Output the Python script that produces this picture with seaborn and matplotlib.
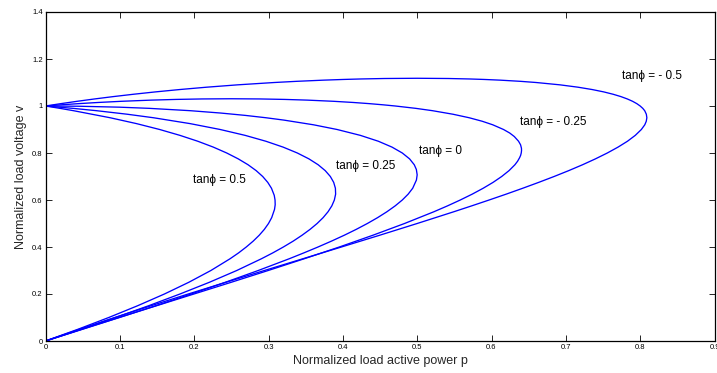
import matplotlib
matplotlib.use("Agg")
import matplotlib.pyplot as plt
import seaborn as sns

# ---- data (normalized power p, voltage v) ----
v_t050 = [1.0, 0.99, 0.98, 0.95, 0.925, 0.9, 0.875, 0.85, 0.825, 0.8,
          0.775, 0.75, 0.725, 0.7, 0.675, 0.65, 0.62, 0.6, 0.58, 0.56,
          0.525, 0.5, 0.475, 0.45, 0.425, 0.4, 0.375, 0.35, 0.3, 0.25,
          0.2, 0.15, 0.1, 0.05, 0.0]
p_t050 = [0.0, 0.0194, 0.0377, 0.0870, 0.1225, 0.1536, 0.1809, 0.2049, 0.2258, 0.2438,
          0.2593, 0.2725, 0.2834, 0.2922, 0.2990, 0.3040, 0.3077, 0.3088, 0.3090, 0.3081,
          0.3043, 0.3000, 0.2944, 0.2875, 0.2794, 0.2701, 0.2598, 0.2483, 0.2225, 0.1929,
          0.1600, 0.1239, 0.0851, 0.0437, 0.0]

v_t025 = [1.0, 0.99, 0.98, 0.965, 0.95, 0.925, 0.9, 0.875, 0.85, 0.825,
          0.8, 0.775, 0.75, 0.725, 0.7, 0.675, 0.65, 0.625, 0.6, 0.575,
          0.55, 0.525, 0.5, 0.475, 0.45, 0.425, 0.4, 0.375, 0.35, 0.3,
          0.25, 0.2, 0.15, 0.1, 0.05, 0.0]
p_t025 = [0.0, 0.0369, 0.0687, 0.1099, 0.1453, 0.1946, 0.2350, 0.2686, 0.2965, 0.3197,
          0.3388, 0.3544, 0.3668, 0.3763, 0.3832, 0.3877, 0.3900, 0.3903, 0.3886, 0.3852,
          0.3801, 0.3735, 0.3654, 0.3559, 0.3451, 0.3332, 0.3200, 0.3058, 0.2905, 0.2573,
          0.2206, 0.1809, 0.1387, 0.0942, 0.0479, 0.0]

v_t000 = [1.0, 0.999, 0.995, 0.99, 0.98, 0.97, 0.96, 0.95, 0.94, 0.92,
          0.9, 0.875, 0.85, 0.825, 0.8, 0.775, 0.75, 0.73, 0.7071, 0.685,
          0.65, 0.625, 0.6, 0.575, 0.55, 0.525, 0.5, 0.475, 0.45, 0.425,
          0.4, 0.375, 0.35, 0.3, 0.25, 0.2, 0.15, 0.1, 0.05, 0.0]
p_t000 = [0.0, 0.0447, 0.0994, 0.1397, 0.1950, 0.2358, 0.2688, 0.2966, 0.3207, 0.3606,
          0.3923, 0.4236, 0.4478, 0.4662, 0.4800, 0.4898, 0.4961, 0.4989, 0.5000, 0.4990,
          0.4940, 0.4879, 0.4800, 0.4704, 0.4593, 0.4468, 0.4330, 0.4180, 0.4019, 0.3847,
          0.3666, 0.3476, 0.3279, 0.2862, 0.2421, 0.1960, 0.1483, 0.0995, 0.0499, 0.0]

v_tm025 = [1.0, 1.005, 1.01, 1.015, 1.02, 1.025, 1.028, 1.03, 1.0308, 1.03,
           1.028, 1.025, 1.02, 1.015, 1.01, 1.005, 1.0,
           0.99, 0.98, 0.965, 0.95, 0.935, 0.92, 0.9, 0.885, 0.87, 0.85,
           0.835, 0.82, 0.81, 0.8, 0.79, 0.78, 0.765, 0.75, 0.725, 0.7,
           0.675, 0.65, 0.625, 0.6, 0.575, 0.55, 0.5, 0.45, 0.4, 0.35,
           0.3, 0.25, 0.2, 0.15, 0.1, 0.05, 0.0]
p_tm025 = [0.0, 0.0210, 0.0442, 0.0708, 0.1021, 0.1421, 0.1755, 0.2108, 0.2500, 0.2884,
           0.3218, 0.3524, 0.3875, 0.4141, 0.4358, 0.4543, 0.4706,
           0.4981, 0.5207, 0.5481, 0.5700, 0.5876, 0.6017, 0.6162, 0.6245, 0.6307, 0.6364,
           0.6391, 0.6403, 0.6404, 0.6400, 0.6392, 0.6378, 0.6351, 0.6315, 0.6236, 0.6137,
           0.6021, 0.5888, 0.5741, 0.5580, 0.5408, 0.5225, 0.4830, 0.4404, 0.3953, 0.3481,
           0.2996, 0.2500, 0.1997, 0.1493, 0.0989, 0.0490, 0.0]

v_tm050 = [1.0, 1.01, 1.02, 1.03, 1.04, 1.05, 1.06, 1.07, 1.08, 1.09,
           1.10, 1.105, 1.11, 1.113, 1.115, 1.117, 1.118, 1.117, 1.115, 1.113,
           1.11, 1.105, 1.10, 1.09, 1.08, 1.07, 1.06, 1.05, 1.04, 1.03,
           1.02, 1.01, 1.0, 0.99, 0.98, 0.965, 0.95, 0.935, 0.92, 0.9,
           0.875, 0.85, 0.825, 0.8, 0.775, 0.75, 0.725, 0.7, 0.675, 0.65,
           0.625, 0.6, 0.575, 0.55, 0.5, 0.45, 0.4, 0.35, 0.3, 0.25,
           0.2, 0.15, 0.1, 0.05, 0.0]
p_tm050 = [0.0, 0.0206, 0.0426, 0.0660, 0.0912, 0.1184, 0.1479, 0.1804, 0.2167, 0.2583,
           0.3080, 0.3379, 0.3741, 0.4011, 0.4238, 0.4561, 0.5000, 0.5420, 0.5707, 0.5899,
           0.6116, 0.6389, 0.6600, 0.6922, 0.7164, 0.7355, 0.7510, 0.7636, 0.7741, 0.7827,
           0.7898, 0.7955, 0.8000, 0.8035, 0.8061, 0.8083, 0.8090, 0.8082, 0.8062, 0.8016,
           0.7934, 0.7829, 0.7702, 0.7558, 0.7398, 0.7225, 0.7039, 0.6842, 0.6635, 0.6420,
           0.6198, 0.5968, 0.5733, 0.5493, 0.5000, 0.4495, 0.3981, 0.3463, 0.2945, 0.2429,
           0.1920, 0.1420, 0.0931, 0.0456, 0.0]

curve_labels = ["tan\u03d5 = 0.5", "tan\u03d5 = 0.25", "tan\u03d5 = 0",
                "tan\u03d5 = - 0.25", "tan\u03d5 = - 0.5"]
label_p = [0.234, 0.431, 0.531, 0.683, 0.816]
label_v = [0.685, 0.745, 0.81, 0.93, 1.128]

x_ticks = [0, 0.1, 0.2, 0.3, 0.4, 0.5, 0.6, 0.7, 0.8, 0.9]
x_ticklabels = ["0", "0.1", "0.2", "0.3", "0.4", "0.5", "0.6", "0.7", "0.8", "0.9"]
y_ticks = [0, 0.2, 0.4, 0.6, 0.8, 1.0, 1.2, 1.4]
y_ticklabels = ["0", "0.2", "0.4", "0.6", "0.8", "1", "1.2", "1.4"]

# ---- plotting ----
sns.set_style("ticks")
plt.rcParams["font.family"] = ["Liberation Sans", "DejaVu Sans"]

fig = plt.figure(figsize=(7.17, 3.73), dpi=100)
ax = fig.add_axes([45.5 / 717, 1 - 341 / 373, (714.5 - 45.5) / 717, (341 - 12) / 373])

curves = [(p_t050, v_t050), (p_t025, v_t025), (p_t000, v_t000),
          (p_tm025, v_tm025), (p_tm050, v_tm050)]
for p, v in curves:
    sns.lineplot(x=p, y=v, sort=False, estimator=None, color="#0000ff",
                 linewidth=0.95, ax=ax)

for txt, px, vy in zip(curve_labels, label_p, label_v):
    ax.text(px, vy, txt, ha="center", va="center", fontsize=8.5, color="black",
            family=["Liberation Sans", "DejaVu Sans"])

ax.set_xlim(0, 0.9)
ax.set_ylim(0, 1.4)
ax.set_xticks(x_ticks)
ax.set_xticklabels(x_ticklabels)
ax.set_yticks(y_ticks)
ax.set_yticklabels(y_ticklabels)
ax.tick_params(direction="in", length=4, width=0.6, labelsize=5.5, pad=2,
               top=True, right=True, colors="black")
for s in ax.spines.values():
    s.set_visible(True)
    s.set_linewidth(0.9)
    s.set_color("black")

ax.set_xlabel("Normalized load active power p", fontsize=9, labelpad=3)
ax.set_ylabel("Normalized load voltage v", fontsize=9, labelpad=4)

fig.savefig("out.png", dpi=100)
